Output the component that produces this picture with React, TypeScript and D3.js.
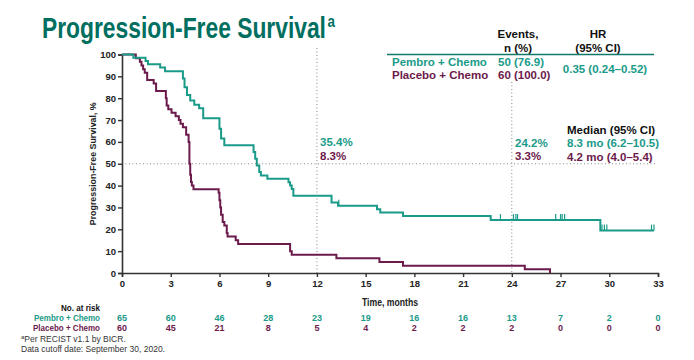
import React, { useEffect, useRef } from 'react';
import * as d3 from 'd3';

// KM step points: [month, survival %]
const pembroSteps: [number, number][] = [
  [0, 100], [0.7, 98.5], [1.45, 97], [1.6, 95.5], [2.35, 94], [2.65, 92.3],
  [3.75, 89], [3.85, 85], [4.0, 81.5], [4.2, 79], [4.45, 77], [4.75, 75.4],
  [5.0, 70.8], [6.0, 66], [6.1, 61.5], [6.3, 58.5], [8.1, 55.4], [8.2, 52.3],
  [8.3, 49.2], [8.45, 46.2], [8.55, 44.6], [8.95, 43.1], [10.25, 41.5],
  [10.35, 40], [10.45, 38.5], [10.55, 35.4], [12.9, 32.3], [13.3, 30.8],
  [15.7, 29.2], [15.9, 27.7], [17.3, 26.1], [22.7, 24.2], [29.45, 19.4], [32.75, 19.4]
];
const pembroCensored: [number, number][] = [
  [13.35, 30.8], [23.3, 24.2], [24.1, 24.2], [24.25, 24.2], [24.35, 24.2],
  [26.7, 24.2], [27.0, 24.2], [27.1, 24.2], [27.25, 24.2],
  [29.55, 19.4], [29.7, 19.4], [29.85, 19.4], [32.6, 19.4], [32.75, 19.4]
];
const placeboSteps: [number, number][] = [
  [0, 100], [0.85, 98.3], [1.1, 96.7], [1.2, 95], [1.3, 93.3], [1.4, 91.7],
  [1.55, 88.3], [1.95, 86.7], [2.1, 83.3], [2.7, 80], [2.75, 76.7], [2.85, 75],
  [3.05, 73.3], [3.3, 71.7], [3.5, 70], [3.6, 68.3], [3.75, 66.7], [3.95, 63.3],
  [4.1, 60], [4.15, 50], [4.2, 45], [4.25, 41.7], [4.3, 40], [4.4, 38.3],
  [5.95, 36.7], [6.0, 33.3], [6.05, 30], [6.1, 26.7], [6.2, 23.3], [6.3, 21.7],
  [6.45, 18.3], [6.5, 16.7], [7.0, 15], [7.15, 13.3], [10.35, 10], [10.45, 8.3],
  [13.2, 6.7], [15.85, 5], [17.3, 3.3], [24.8, 1.7], [26.35, 0]
];

const xTicks = [0, 3, 6, 9, 12, 15, 18, 21, 24, 27, 30, 33];
const yTicks = [0, 10, 20, 30, 40, 50, 60, 70, 80, 90, 100];
const pembroAtRisk = [65, 60, 46, 28, 23, 19, 16, 16, 13, 7, 2, 0];
const placeboAtRisk = [60, 45, 21, 8, 5, 4, 2, 2, 2, 0, 0, 0];

const TEAL = '#1a9a89';
const PURPLE = '#6c1a4c';
const ARIAL = '"Liberation Sans", Arial, sans-serif';

const App = () => {
  const ref = useRef<SVGSVGElement>(null);

  useEffect(() => {
    if (!ref.current) return;
    const svg = d3.select(ref.current);
    svg.selectAll('*').remove();

    const x = d3.scaleLinear().domain([0, 33]).range([122, 658]);
    const y = d3.scaleLinear().domain([0, 100]).range([273, 54.5]);

    // Title: Arial bold squeezed horizontally to look like Arial Narrow
    const title = svg.append('text')
      .attr('transform', 'translate(42,37.5) scale(0.787,1)')
      .attr('font-family', ARIAL).attr('font-weight', 'bold')
      .attr('font-size', 29).attr('fill', '#006f5f');
    title.append('tspan').text('Progression-Free Survival');
    title.append('tspan').attr('dx', 2).attr('dy', -11).attr('font-size', 17).text('a');

    // Reference lines
    const dots = svg.append('g').attr('stroke', '#888').attr('stroke-width', 1)
      .attr('stroke-dasharray', '1,2.5');
    dots.append('line').attr('x1', x(0)).attr('x2', 655).attr('y1', y(50)).attr('y2', y(50));
    dots.append('line').attr('x1', x(12)).attr('x2', x(12)).attr('y1', 48).attr('y2', y(0));
    dots.append('line').attr('x1', x(24)).attr('x2', x(24)).attr('y1', 82).attr('y2', y(0));

    // Axes
    const xAxis = svg.append('g').attr('transform', `translate(0,${y(0)})`)
      .call(d3.axisBottom(x).tickValues(xTicks).tickSize(4).tickPadding(3));
    const yAxis = svg.append('g').attr('transform', `translate(${x(0)},0)`)
      .call(d3.axisLeft(y).tickValues(yTicks).tickSize(4).tickPadding(2));
    [xAxis, yAxis].forEach(g => {
      g.select('.domain').attr('stroke', '#333').attr('stroke-width', 1.6);
      g.selectAll('.tick line').attr('stroke', '#333').attr('stroke-width', 1.4);
      g.selectAll('.tick text').attr('font-family', ARIAL).attr('font-weight', 'bold')
        .attr('font-size', 9.5).attr('fill', '#222');
    });

    svg.append('text')
      .attr('transform', `translate(96,${y(50)}) rotate(-90)`)
      .attr('text-anchor', 'middle').attr('font-family', ARIAL).attr('font-weight', 'bold')
      .attr('font-size', 9.5).attr('fill', '#222')
      .attr('textLength', 123).attr('lengthAdjust', 'spacingAndGlyphs')
      .text('Progression-Free Survival, %');
    svg.append('text').attr('x', 390).attr('y', 306).attr('text-anchor', 'middle')
      .attr('font-family', ARIAL).attr('font-weight', 'bold').attr('font-size', 10)
      .attr('textLength', 56).attr('lengthAdjust', 'spacingAndGlyphs')
      .attr('fill', '#222').text('Time, months');

    // Curves
    const line = d3.line<[number, number]>()
      .x(d => x(d[0])).y(d => y(d[1])).curve(d3.curveStepAfter);
    svg.append('path').datum(placeboSteps).attr('fill', 'none')
      .attr('stroke', PURPLE).attr('stroke-width', 2).attr('d', line);
    svg.append('path').datum(pembroSteps).attr('fill', 'none')
      .attr('stroke', TEAL).attr('stroke-width', 2).attr('d', line);
    svg.append('g').selectAll('line').data(pembroCensored).join('line')
      .attr('x1', d => x(d[0])).attr('x2', d => x(d[0]))
      .attr('y1', d => y(d[1])).attr('y2', d => y(d[1]) - 6)
      .attr('stroke', TEAL).attr('stroke-width', 1.2);

    // Landmark labels
    const label = (tx: number, ty: number, t: string, c: string, anchor = 'start') =>
      svg.append('text').attr('x', tx).attr('y', ty).attr('text-anchor', anchor)
        .attr('font-family', ARIAL).attr('font-weight', 'bold').attr('font-size', 11.5)
        .attr('fill', c).text(t);
    label(320, 146, '35.4%', TEAL);
    label(320, 159.5, '8.3%', PURPLE);
    label(515, 146.5, '24.2%', TEAL);
    label(515, 160, '3.3%', PURPLE);
    label(567, 133.5, 'Median (95% CI)', '#111');
    label(567, 147, '8.3 mo (6.2\u201310.5)', TEAL);
    label(567, 160.5, '4.2 mo (4.0\u20135.4)', PURPLE);

    // Events / HR table
    label(518, 38, 'Events,', '#111', 'middle');
    label(518, 51.5, 'n (%)', '#111', 'middle');
    label(598, 38, 'HR', '#111', 'middle');
    label(598, 51.5, '(95% CI)', '#111', 'middle');
    svg.append('line').attr('x1', 387).attr('x2', 654).attr('y1', 54.5).attr('y2', 54.5)
      .attr('stroke', '#127a6c').attr('stroke-width', 1.6);
    label(392, 66, 'Pembro + Chemo', TEAL);
    label(392, 78.5, 'Placebo + Chemo', PURPLE);
    label(498, 66, '50 (76.9)', TEAL);
    label(498, 78.5, '60 (100.0)', PURPLE);
    label(605, 72.5, '0.35 (0.24\u20130.52)', TEAL, 'middle');

    // Number at risk
    const small = (tx: number, ty: number, t: string, c: string, anchor = 'end', len = 0) => {
      const s = svg.append('text').attr('x', tx).attr('y', ty).attr('text-anchor', anchor)
        .attr('font-family', ARIAL).attr('font-size', 9).attr('font-weight', 'bold')
        .attr('fill', c).text(t);
      if (len) s.attr('textLength', len).attr('lengthAdjust', 'spacingAndGlyphs');
      return s;
    };
    small(100, 311, 'No. at risk', '#111', 'end', 39);
    small(100, 321, 'Pembro + Chemo', TEAL, 'end', 66);
    small(100, 331, 'Placebo + Chemo', PURPLE, 'end', 67);
    xTicks.forEach((t, i) => {
      small(x(t), 321, String(pembroAtRisk[i]), TEAL, 'middle');
      small(x(t), 331, String(placeboAtRisk[i]), PURPLE, 'middle');
    });

    // Footnotes
    const foot = svg.append('text').attr('x', 21).attr('y', 341.5)
      .attr('font-family', ARIAL).attr('font-size', 8.5).attr('fill', '#333');
    foot.append('tspan').attr('font-size', 6).attr('dy', -2.5).text('a');
    foot.append('tspan').attr('dy', 2.5).text('Per RECIST v1.1 by BICR.');
    svg.append('text').attr('x', 21).attr('y', 351.5)
      .attr('font-family', ARIAL).attr('font-size', 8.5).attr('fill', '#333')
      .text('Data cutoff date: September 30, 2020.');
  }, []);

  return (
    <svg ref={ref} width={694} height={360}
      style={{ position: 'absolute', left: 0, top: 0, background: '#fff' }} />
  );
};

export default App;
